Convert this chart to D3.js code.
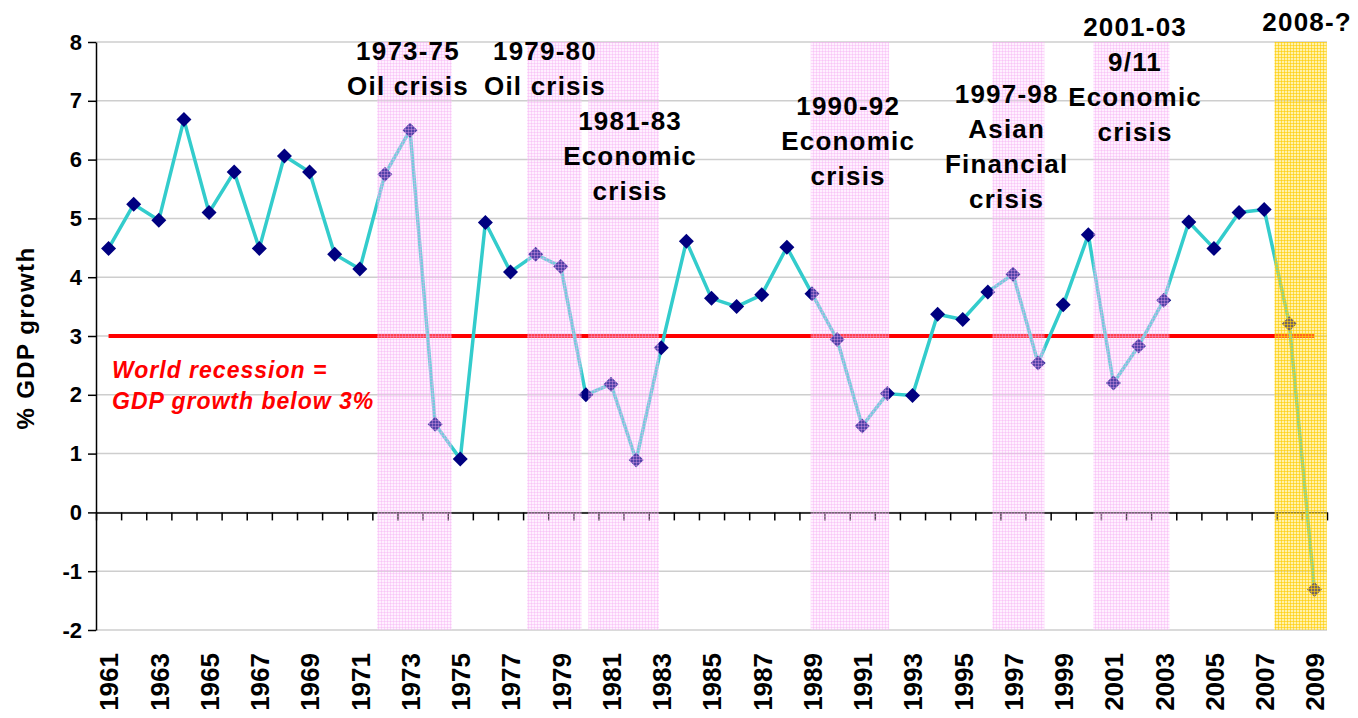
<!DOCTYPE html>
<html>
<head>
<meta charset="utf-8">
<script src="https://cdnjs.cloudflare.com/ajax/libs/d3/7.8.5/d3.min.js"></script>
<style>
  body { margin: 0; background: #fff; }
  text { font-family: "Liberation Sans", Arial, sans-serif; font-weight: bold; }
</style>
</head>
<body>
<svg id="chart" width="1358" height="718"></svg>
<script>
// World GDP growth by year
const years = d3.range(1961, 2010);
const gdpGrowth = [
  4.49, 5.24, 4.97, 6.68, 5.10, 5.79, 4.49, 6.06, 5.79, 4.39,
  4.14, 5.75, 6.50, 1.50, 0.91, 4.93, 4.09, 4.39, 4.18, 2.00,
  2.18, 0.89, 2.80, 4.61, 3.64, 3.50, 3.70, 4.51, 3.72, 2.94,
  1.47, 2.02, 1.99, 3.37, 3.28, 3.75, 4.05, 2.54, 3.53, 4.72,
  2.20, 2.83, 3.61, 4.94, 4.49, 5.10, 5.15, 3.21, -1.31
];
const recessionLevel = 3;
const yTicks = [-2, -1, 0, 1, 2, 3, 4, 5, 6, 7, 8];
const xTickLabels = years.filter(y => y % 2 === 1);

// crisis periods (in year units) and their captions
const crisisStart = [1971.69, 1977.66, 1980.10, 1988.95, 1996.18, 2000.20, 2007.41];
const crisisEnd   = [1974.66, 1979.83, 1982.91, 1992.07, 1998.25, 2003.23, 2009.49];
const crisisKind  = ['pink', 'pink', 'pink', 'pink', 'pink', 'pink', 'yellow'];
const crisisText  = [
  ['1973-75', 'Oil crisis'],
  ['1979-80', 'Oil crisis'],
  ['1981-83', 'Economic', 'crisis'],
  ['1990-92', 'Economic', 'crisis'],
  ['1997-98', 'Asian', 'Financial', 'crisis'],
  ['2001-03', '9/11', 'Economic', 'crisis'],
  ['2008-?']
];
// where each caption sits (x in year units, first baseline in px)
const captionYear = [1972.92, 1978.37, 1981.76, 1990.44, 1996.75, 2001.86, 2008.71];
const captionTop  = [60, 60, 130, 115, 103, 36, 31];

const data = years.map((y, i) => ({ year: y, value: gdpGrowth[i] }));

const svg = d3.select('#chart');
const margin = { top: 42, right: 31, bottom: 88, left: 96 };
const width = +svg.attr('width');
const height = +svg.attr('height');
const innerW = width - margin.left - margin.right;
const innerH = height - margin.top - margin.bottom;

const x = d3.scaleLinear().domain([1960.5, 2009.5]).range([0, innerW]);
const y = d3.scaleLinear().domain([-2, 8]).range([innerH, 0]);

const defs = svg.append('defs');
function gridPattern(id, base, baseOp, lineCol, lineOp) {
  const p = defs.append('pattern')
    .attr('id', id).attr('patternUnits', 'userSpaceOnUse')
    .attr('width', 3).attr('height', 3);
  p.append('rect').attr('width', 3).attr('height', 3)
    .attr('fill', base).attr('fill-opacity', baseOp);
  p.append('rect').attr('width', 3).attr('height', 1)
    .attr('fill', lineCol).attr('fill-opacity', lineOp);
  p.append('rect').attr('width', 1).attr('height', 3)
    .attr('fill', lineCol).attr('fill-opacity', lineOp);
}
gridPattern('pink', '#ffd0ff', 0.32, '#f4a4f0', 0.35);
gridPattern('yellow', '#ffe24a', 0.45, '#ffcc00', 0.6);

const g = svg.append('g').attr('transform', `translate(${margin.left},${margin.top})`);

// horizontal gridlines
g.append('g').selectAll('line').data(yTicks).enter().append('line')
  .attr('x1', 0).attr('x2', innerW)
  .attr('y1', d => y(d)).attr('y2', d => y(d))
  .attr('stroke', '#cecece').attr('stroke-width', 1.5);

// x axis at zero with ticks at category boundaries
const xAxisG = g.append('g')
  .attr('transform', `translate(0,${y(0)})`)
  .call(d3.axisBottom(x)
    .tickValues(d3.range(1960.5, 2010, 1))
    .tickFormat('')
    .tickSize(8)
    .tickSizeOuter(0));
xAxisG.select('.domain').attr('stroke', '#000').attr('stroke-width', 1.5);
xAxisG.selectAll('.tick line').attr('stroke', '#000').attr('stroke-width', 1.5);

// recession threshold line
g.append('path')
  .datum(years)
  .attr('fill', 'none')
  .attr('stroke', '#ff0000')
  .attr('stroke-width', 4)
  .attr('d', d3.line().x(d => x(d)).y(() => y(recessionLevel)));

// growth series
g.append('path')
  .datum(data)
  .attr('fill', 'none')
  .attr('stroke', '#33cccc')
  .attr('stroke-width', 3.5)
  .attr('stroke-linejoin', 'round')
  .attr('d', d3.line().x(d => x(d.year)).y(d => y(d.value)));

g.append('g').selectAll('path').data(data).enter().append('path')
  .attr('transform', d => `translate(${x(d.year)},${y(d.value)})`)
  .attr('d', 'M0,-7.5L7.5,0L0,7.5L-7.5,0Z')
  .attr('fill', '#000080');

// crisis shading drawn over the series
g.append('g').selectAll('rect').data(crisisStart).enter().append('rect')
  .attr('x', (d, i) => x(d))
  .attr('width', (d, i) => x(crisisEnd[i]) - x(d))
  .attr('y', y(8))
  .attr('height', y(-2) - y(8))
  .attr('fill', (d, i) => `url(#${crisisKind[i]})`);

// y axis
const yAxisG = g.append('g')
  .call(d3.axisLeft(y).tickValues(yTicks).tickFormat(d => String(d))
    .tickSize(8).tickSizeOuter(0).tickPadding(6));
yAxisG.select('.domain').attr('stroke', '#000').attr('stroke-width', 1.5);
yAxisG.selectAll('.tick line').attr('stroke', '#000').attr('stroke-width', 1.5);
yAxisG.selectAll('.tick text')
  .attr('fill', '#000')
  .style('font-size', '22px')
  .style('font-family', '"Liberation Sans", Arial, sans-serif')
  .style('font-weight', 'bold');

// year labels
const labelG = g.append('g')
  .attr('transform', `translate(0,${innerH + 23})`)
  .call(d3.axisBottom(x).tickValues(xTickLabels).tickFormat(d3.format('d')).tickSize(0));
labelG.select('.domain').remove();
labelG.selectAll('.tick text')
  .attr('fill', '#000')
  .attr('y', 0).attr('x', 0).attr('dy', '0.36em')
  .attr('transform', 'rotate(-90)')
  .style('text-anchor', 'end')
  .style('font-size', '26px')
  .style('font-family', '"Liberation Sans", Arial, sans-serif')
  .style('font-weight', 'bold');

// y axis title
svg.append('text')
  .attr('transform', `translate(34,${338}) rotate(-90)`)
  .attr('text-anchor', 'middle')
  .style('font-size', '24px')
  .style('letter-spacing', '1.4px')
  .attr('fill', '#000')
  .text('% GDP growth');

// recession note
const note = g.append('text')
  .attr('fill', '#ff0000')
  .style('font-size', '23px')
  .style('font-style', 'italic')
  .style('letter-spacing', '1px');
note.append('tspan').attr('x', 16).attr('y', 336).text('World recession =');
note.append('tspan').attr('x', 16).attr('y', 367).text('GDP growth below 3%');

// crisis captions
crisisText.forEach((lines, i) => {
  const t = svg.append('text')
    .attr('text-anchor', 'middle')
    .attr('fill', '#000')
    .style('font-size', '26px')
    .style('letter-spacing', '1.2px');
  lines.forEach((ln, k) => {
    t.append('tspan')
      .attr('x', margin.left + x(captionYear[i]))
      .attr('y', captionTop[i] + k * 35)
      .text(ln);
  });
});
</script>
</body>
</html>
